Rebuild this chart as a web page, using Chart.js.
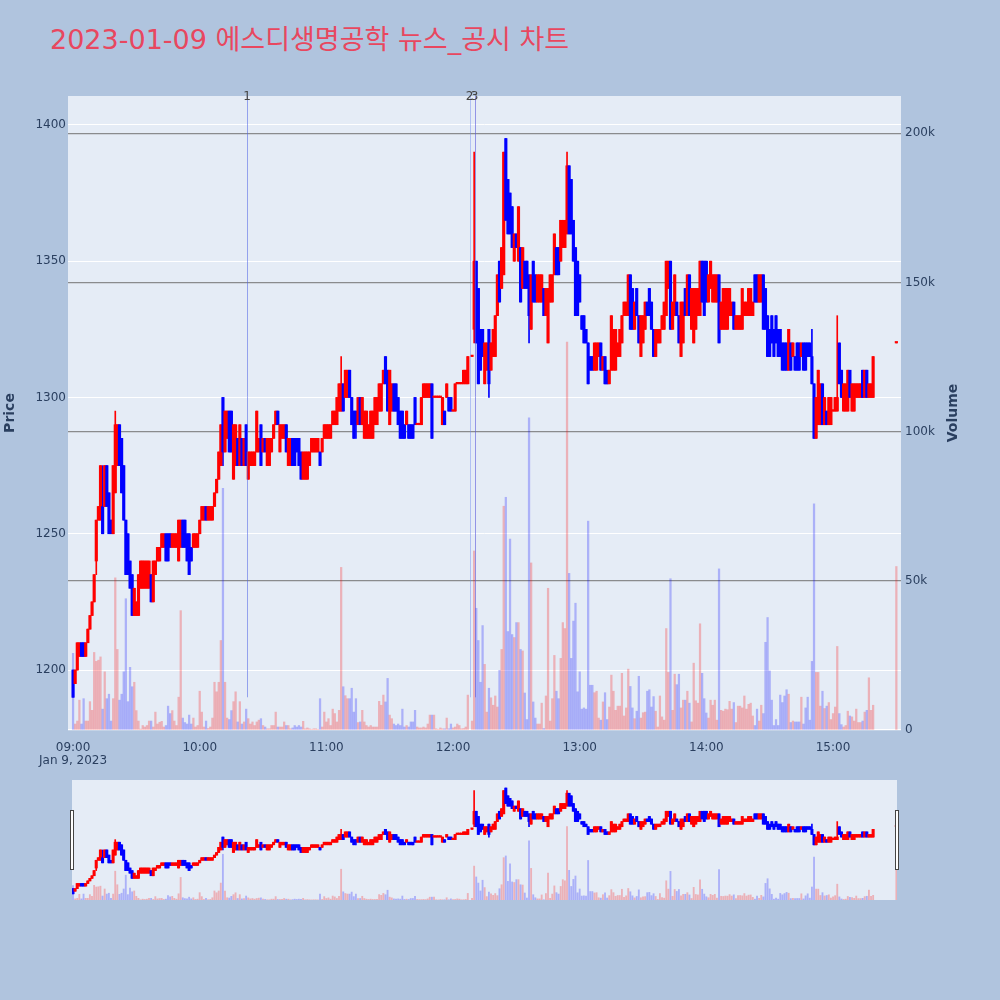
<!DOCTYPE html>
<html>
<head>
<meta charset="utf-8">
<script src="https://cdn.jsdelivr.net/npm/chart.js@4.4.1/dist/chart.umd.min.js"></script>
<style>
  html, body { margin: 0; padding: 0; background: #b0c4de; }
  #page { position: relative; width: 1000px; height: 1000px; overflow: hidden; }
  #title {
    position: absolute; left: 50px; top: 24px;
    font: 27px "DejaVu Sans", "Noto Sans CJK KR", sans-serif;
    color: #e8475f; white-space: nowrap; line-height: 32px;
  }
  #mainChart { position: absolute; left: 0; top: 0; }
  #sliderChart { position: absolute; left: 0; top: 780px; }
</style>
</head>
<body>
<div id="page">
  <div id="title">2023-01-09 에스디생명공학 뉴스_공시 차트</div>
  <canvas id="mainChart" width="1000" height="780"></canvas>
  <canvas id="sliderChart" width="1000" height="120"></canvas>
</div>
<script>
// one candle per minute from 09:00 (index = minutes after 09:00), null = no trade
const opens = [
  1200,1195,1200,1205,1210,1210,1205,1210,1215,1220, // 09:00
  1225,1240,1255,1255,1260,1260,1275,1265,1255,1250,
  1265,1275,1290,1285,1275,1255,1250,1240,1235,1220,
  1220,1220,1230,1230,1230,1230,1230,1235,1225,1235,
  1240,1240,1245,1245,1250,1250,1250,1245,1245,1245,
  1240,1245,1255,1255,1250,1250,1245,1245,1245,1245,
  1250,1255,1255,1260,1255,1255,1255,1260,1265,1270, // 10:00
  1275,1300,1280,1285,1295,1295,1270,1275,1285,1275,
  1285,1275,1290,1270,1275,1275,1275,1280,1280,1290,
  1280,1285,1275,1275,1280,1285,1290,1295,1280,1285,
  1285,1290,1275,1275,1285,1285,1285,1285,1280,1270,
  1270,1270,1275,1280,1280,1280,1280,1280,1280,1285,
  1285,1285,1285,1290,1290,1290,1295,1295,1305,1300, // 11:00
  1300,1310,1300,1295,1295,1290,1300,1290,1285,1285,
  1285,1285,1285,1290,1290,1295,1295,1305,1315,1310,
  1290,1295,1305,1305,1300,1295,1295,1290,1290,1290,
  1290,1290,1300,1290,1290,1290,1300,1300,1300,1300,
  1305,1300,1300,1300,1300,1290,1295,1300,1300,1300,
  1295,1295,1305,1305,1305,1305,1305,1305,null,1315, // 12:00
  1325,1350,1340,1325,1325,1305,1310,1325,1310,1315,
  1315,1330,1350,1340,1345,1395,1380,1375,1370,1350,
  1360,1350,1355,1340,1350,1350,1345,1325,1350,1345,
  1335,1335,1335,1340,1330,1320,1335,1335,1345,1355,
  1355,1350,1355,1355,1360,1385,1380,1365,1355,1350,
  1345,1330,1330,1325,1320,1315,1315,1310,1310,1315, // 13:00
  1320,1310,1315,1310,1305,1310,1310,1310,1315,1315,
  1320,1330,1330,1330,1345,1340,1325,1340,1330,1315,
  1320,1325,1335,1340,1335,1325,1315,1320,1320,1325,
  1325,1330,1340,1350,1325,1330,1335,1330,1315,1320,
  1340,1330,1345,1325,1320,1325,1330,1330,1350,1350,
  1350,1335,1340,1335,1335,1335,1345,1325,1325,1325, // 14:00
  1325,1330,1330,1335,1325,1325,1325,1325,1330,1330,
  1330,1330,1330,1345,1345,1335,1335,1345,1340,1330,
  1325,1330,1325,1330,1325,1325,1320,1320,1320,1310,
  1320,1315,1315,1320,1320,1315,1320,1320,1320,1320,
  1315,1305,1285,1290,1290,1305,1290,1295,1290,1290,
  1295,1295,1295,1320,1310,1295,1295,1295,1310,1295, // 15:00
  1295,1300,1300,1300,1310,1300,1310,1300,1300,1300,
  null,null,null,null,null,null,null,null,null,null,
  1320
];
const closes = [
  1190,1200,1210,1210,1205,1205,1210,1215,1220,1225,
  1235,1255,1260,1275,1250,1275,1260,1250,1250,1275,
  1290,1290,1275,1265,1255,1235,1235,1230,1220,1230,
  1225,1235,1240,1240,1240,1240,1240,1225,1240,1240,
  1245,1245,1250,1250,1240,1240,1245,1250,1250,1250,
  1255,1255,1245,1245,1240,1235,1240,1250,1250,1250,
  1255,1260,1260,1255,1260,1260,1260,1265,1270,1280,
  1290,1280,1295,1295,1280,1280,1290,1290,1275,1290,
  1275,1285,1275,1280,1280,1280,1280,1295,1285,1275,
  1285,1280,1285,1285,1285,1290,1295,1290,1290,1290,
  1290,1280,1285,1285,1275,1275,1280,1275,1270,1280,
  1280,1280,1280,1285,1285,1285,1285,1275,1285,1290,
  1290,1290,1290,1295,1295,1300,1305,1305,1295,1310,
  1310,1300,1290,1285,1290,1300,1290,1300,1295,1295,
  1290,1295,1295,1300,1300,1305,1305,1310,1305,1295,
  1310,1305,1295,1295,1290,1285,1285,1285,1295,1285,
  1285,1285,1290,1290,1290,1300,1305,1305,1305,1305,
  1285,1300,1300,1300,1300,1300,1290,1305,1295,1295,
  1295,1305,1305,1305,1305,1310,1310,1315,null,1315,
  1350,1320,1305,1310,1315,1320,1320,1305,1320,1325,
  1330,1345,1335,1355,1390,1365,1360,1360,1355,1360,
  1355,1370,1335,1355,1340,1340,1330,1345,1335,1335,
  1345,1345,1345,1330,1340,1340,1345,1345,1360,1345,
  1345,1365,1365,1365,1385,1360,1360,1350,1330,1330,
  1335,1325,1320,1320,1305,1310,1310,1320,1320,1320,
  1310,1315,1305,1305,1310,1330,1325,1325,1320,1325,
  1330,1335,1335,1345,1325,1325,1335,1330,1320,1330,
  1330,1335,1330,1330,1325,1315,1325,1325,1325,1330,
  1335,1350,1350,1325,1335,1345,1330,1320,1335,1335,
  1330,1345,1330,1340,1340,1340,1340,1350,1335,1330,
  1335,1345,1350,1345,1345,1345,1320,1335,1340,1340,
  1340,1340,1335,1325,1330,1330,1330,1340,1335,1335,
  1340,1340,1335,1335,1335,1345,1345,1325,1325,1315,
  1315,1320,1315,1320,1315,1315,1310,1310,1310,1325,
  1310,1320,1310,1310,1310,1320,1310,1310,1315,1315,
  1305,1285,1300,1310,1305,1290,1300,1290,1300,1300,
  1295,1300,1300,1305,1300,1305,1305,1310,1300,1305,
  1305,1305,1305,1305,1300,1310,1300,1305,1305,1315,
  null,null,null,null,null,null,null,null,null,null,
  1320
];
const highs = [
  1200,1200,1210,1210,1210,1210,1210,1215,1220,1225,
  1235,1255,1260,1275,1275,1275,1275,1265,1255,1275,
  1295,1290,1290,1285,1275,1255,1250,1240,1235,1230,
  1225,1235,1240,1240,1240,1240,1240,1235,1240,1240,
  1245,1245,1250,1250,1250,1250,1250,1250,1250,1250,
  1255,1255,1255,1255,1250,1250,1245,1250,1250,1250,
  1255,1260,1260,1260,1260,1260,1260,1265,1270,1280,
  1290,1300,1295,1295,1295,1295,1290,1290,1285,1290,
  1285,1285,1290,1280,1280,1280,1280,1295,1285,1290,
  1285,1285,1285,1285,1285,1290,1295,1295,1290,1290,
  1290,1290,1285,1285,1285,1285,1285,1285,1280,1280,
  1280,1280,1280,1285,1285,1285,1285,1280,1285,1290,
  1290,1290,1290,1295,1295,1300,1305,1315,1305,1310,
  1310,1310,1300,1295,1295,1300,1300,1300,1295,1295,
  1290,1295,1295,1300,1300,1305,1305,1310,1315,1310,
  1310,1305,1305,1305,1300,1295,1295,1290,1295,1290,
  1290,1290,1300,1290,1290,1300,1305,1305,1305,1305,
  1305,1300,1300,1300,1300,1300,1295,1305,1300,1300,
  1295,1305,1305,1305,1305,1310,1310,1315,null,1315,
  1390,1350,1340,1325,1325,1320,1320,1325,1320,1325,
  1330,1345,1350,1355,1390,1395,1380,1375,1370,1360,
  1360,1370,1355,1355,1350,1350,1345,1345,1350,1345,
  1345,1345,1345,1340,1340,1340,1345,1345,1360,1355,
  1355,1365,1365,1365,1390,1385,1380,1365,1355,1350,
  1345,1330,1330,1325,1320,1315,1315,1320,1320,1320,
  1320,1315,1315,1310,1310,1330,1325,1325,1320,1325,
  1330,1335,1335,1345,1345,1340,1335,1340,1330,1330,
  1330,1335,1335,1340,1335,1325,1325,1325,1325,1330,
  1335,1350,1350,1350,1335,1345,1335,1330,1335,1335,
  1340,1345,1345,1340,1340,1340,1340,1350,1350,1350,
  1350,1345,1350,1345,1345,1345,1345,1335,1340,1340,
  1340,1340,1335,1335,1330,1330,1330,1340,1335,1335,
  1340,1340,1335,1345,1345,1345,1345,1345,1340,1330,
  1325,1330,1325,1330,1325,1325,1320,1320,1320,1325,
  1320,1320,1315,1320,1320,1320,1320,1320,1320,1320,
  1325,1305,1300,1310,1305,1305,1300,1295,1300,1300,
  1295,1300,1330,1320,1310,1305,1305,1310,1310,1305,
  1305,1305,1305,1305,1310,1310,1310,1305,1305,1315,
  null,null,null,null,null,null,null,null,null,null,
  1320
];
const lows = [
  1190,1195,1200,1205,1205,1205,1205,1210,1215,1220,
  1225,1235,1255,1255,1250,1260,1260,1250,1250,1250,
  1265,1275,1275,1265,1255,1235,1235,1230,1220,1220,
  1220,1220,1230,1230,1230,1230,1230,1225,1225,1235,
  1240,1240,1245,1245,1240,1240,1245,1245,1245,1245,
  1240,1245,1245,1245,1240,1235,1240,1245,1245,1245,
  1250,1255,1255,1255,1255,1255,1255,1260,1265,1270,
  1275,1275,1280,1285,1280,1280,1270,1275,1275,1275,
  1275,1275,1275,1270,1275,1275,1275,1280,1280,1275,
  1280,1280,1275,1275,1280,1285,1290,1290,1280,1285,
  1285,1280,1275,1275,1275,1275,1280,1275,1270,1270,
  1270,1270,1275,1280,1280,1280,1280,1275,1280,1285,
  1285,1285,1285,1290,1290,1290,1295,1295,1295,1300,
  1300,1300,1290,1285,1285,1290,1290,1290,1285,1285,
  1285,1285,1285,1290,1290,1295,1295,1305,1305,1295,
  1290,1295,1295,1295,1290,1285,1285,1285,1290,1285,
  1285,1285,1290,1290,1290,1290,1300,1300,1300,1300,
  1285,1300,1300,1300,1300,1290,1290,1300,1295,1295,
  1295,1295,1305,1305,1305,1305,1305,1305,null,1315,
  1320,1320,1305,1310,1315,1305,1310,1300,1310,1315,
  1315,1330,1335,1340,1345,1365,1360,1360,1355,1350,
  1355,1350,1335,1340,1340,1340,1320,1325,1335,1335,
  1335,1335,1335,1330,1330,1320,1335,1335,1345,1345,
  1345,1350,1355,1355,1360,1360,1360,1350,1330,1330,
  1335,1325,1320,1320,1305,1310,1310,1310,1310,1315,
  1310,1310,1305,1305,1305,1310,1310,1310,1315,1315,
  1320,1330,1330,1330,1325,1325,1325,1330,1320,1315,
  1320,1325,1330,1330,1325,1315,1315,1320,1320,1325,
  1325,1330,1340,1325,1325,1330,1330,1320,1315,1320,
  1330,1330,1330,1325,1320,1325,1330,1330,1335,1330,
  1335,1335,1340,1335,1335,1335,1320,1325,1325,1325,
  1325,1330,1330,1325,1325,1325,1325,1325,1330,1330,
  1330,1330,1330,1335,1335,1335,1335,1325,1325,1315,
  1315,1320,1315,1320,1315,1315,1310,1310,1310,1310,
  1310,1315,1310,1310,1310,1315,1310,1310,1315,1315,
  1305,1285,1285,1290,1290,1290,1290,1290,1290,1290,
  1295,1295,1295,1305,1300,1295,1295,1295,1300,1295,
  1295,1300,1300,1300,1300,1300,1300,1300,1300,1300,
  null,null,null,null,null,null,null,null,null,null,
  1320
];
// volume per minute, in thousands of shares
const volumesK = [
  25.7,2,3,10,2,10.5,3,3,9.5,6.6,
  26,23,23.4,24.5,7,19.5,10.5,12,3,10.5,
  51,27,10,12,19.5,44,9.5,21,14.5,16,
  6.5,3,0.3,1.5,1,1.5,3,3,1,6,
  2,2.6,2.9,1,1.5,8,5.5,6.5,3,1.5,
  11,40,4,2.5,2,5,2,4,1,1.5,
  13,6,1,3,0.5,1,4,16,12.8,16,
  30,81,16,4,3.5,6.5,9.5,12.8,2.7,9.5,
  2,2.7,7,3.8,2,2.7,1.5,2.7,3.3,3.8,
  1.5,1,0.4,0.4,1.5,1.5,6,1,1,1,
  2.7,1.5,1.5,0.4,0.7,1.5,1,1.5,1,2.9,
  0.4,0.7,0.4,0.2,0.4,0.4,0.2,10.5,1,6,
  2.7,3.8,1.5,7,5.5,2.7,6.6,54.5,14.5,11.5,
  10.5,10.5,14,6,10.5,2.5,2.7,6.6,2.7,1.5,
  1,1.5,1,1,1,9.6,8.3,11.7,9.4,17.3,
  5,3.8,2,1.5,2,1.5,7,1,1.5,1,
  2.7,2.7,6.6,1,0.7,0.7,1,0.7,2,5,
  5,5,0.4,0.2,0.7,0.4,0.4,4,0.4,2,
  0.7,1,2,1.5,0.4,0.5,1,11.7,null,3,
  60,40.8,30,16,35,22,6,14,10.8,8.3,
  11.4,7.7,20,27,75,78,33,64,32,31,
  36,36,27,26.5,12.4,3.5,104.6,56,9.4,4,
  2,2,9,0.5,11.4,47.5,3,10.5,25,13,
  10.5,24,36,34,130,52.5,24,36.5,42.5,12.8,
  19.5,7,7.4,7,70,15,15,12.5,13,4,
  3.3,9.4,12.5,3.5,7.7,18.4,13,6.6,8,8,
  19,4.7,7.4,20.4,14.6,7.4,3.8,6.3,18,4,
  5.8,6,13,13.5,7.7,11.2,6.3,1,11.4,4.4,
  3.3,34,19.3,50.7,6.6,18.7,15.2,18.7,7.4,10,
  10,13,9,2.7,22.4,9.8,9,35.6,19,10.5,
  5.7,4,10,8.3,10,3.3,54,6.6,6.3,7,
  6.8,9.6,7,9.2,2.5,8,8,7.4,11.4,7,
  8.6,9,4.7,1.5,7,3,8.3,5.5,29.4,37.7,
  19.8,10,1.5,3.5,1.5,11.7,9.2,11.4,13.5,12,
  2.5,3,2.7,2.7,2.7,11,2,7.4,11,3.3,
  23,75.8,19.3,19.3,8,13,7.2,8,9.2,3.5,
  5.5,7.7,28,5.5,1.8,1,1.5,6.3,4.7,4.4,
  3,7,2.5,2.5,3,6,6.6,17.5,6.6,8.3,
  null,null,null,null,null,null,null,null,null,null,
  54.8
];

const priceTicks = [1200, 1250, 1300, 1350, 1400];
const volumeTicks = [0, 50, 100, 150, 200];
const timeTicks = [0, 60, 120, 180, 240, 300, 360];
const timeLabels = ['09:00', '10:00', '11:00', '12:00', '13:00', '14:00', '15:00'];
const dateLabel = 'Jan 9, 2023';
// news / disclosure times, minutes after 09:00
const newsMinutes = [82.4, 187.8, 190.2];
const newsLabels = ['1', '2', '3'];

const UP = '#ff0000', DOWN = '#0000ff';
const UP_VOL = 'rgba(255,0,0,0.25)', DOWN_VOL = 'rgba(0,0,255,0.25)';
const TEXT = '#2a3f5f';
const FONT = '"DejaVu Sans", "Noto Sans", sans-serif';

const idx = opens.map((o, i) => i).filter(i => opens[i] !== null);
const isUp = i => closes[i] >= opens[i];
const minLow = Math.min(...idx.map(i => lows[i]));

function buildDatasets(bodyW, wickW, volW) {
  return [
    {
      type: 'bar', label: 'body', order: 1, grouped: false,
      data: idx.map(i => ({ x: i, y: [opens[i], closes[i]] })),
      backgroundColor: idx.map(i => isUp(i) ? UP : DOWN),
      barThickness: bodyW, minBarLength: 1.5, yAxisID: 'y'
    },
    {
      type: 'bar', label: 'wick', order: 2, grouped: false,
      data: idx.map(i => ({ x: i, y: [lows[i], highs[i]] })),
      backgroundColor: idx.map(i => isUp(i) ? UP : DOWN),
      barThickness: wickW, yAxisID: 'y'
    },
    {
      type: 'bar', label: 'volume', order: 3, grouped: false,
      data: idx.map(i => ({ x: i, y: volumesK[i] })),
      backgroundColor: idx.map(i => isUp(i) ? UP_VOL : DOWN_VOL),
      barThickness: volW, yAxisID: 'y2'
    }
  ];
}

const plotBg = {
  id: 'plotBg',
  beforeDraw(chart) {
    const { ctx, chartArea: a } = chart;
    ctx.save();
    ctx.fillStyle = '#e5ecf6';
    ctx.fillRect(a.left, a.top, a.right - a.left, a.bottom - a.top);
    ctx.restore();
  }
};

const newsMarks = {
  id: 'newsMarks',
  afterDatasetsDraw(chart) {
    const { ctx, chartArea: a, scales } = chart;
    const yEnd = scales.y.getPixelForValue(minLow);
    const colors = ['rgba(80,100,230,0.55)', 'rgba(110,140,240,0.45)', 'rgba(90,90,220,0.6)'];
    ctx.save();
    newsMinutes.forEach((m, k) => {
      const x = Math.round(scales.x.getPixelForValue(m)) + 0.5;
      ctx.strokeStyle = colors[k];
      ctx.lineWidth = 1;
      ctx.beginPath();
      ctx.moveTo(x, a.top);
      ctx.lineTo(x, yEnd);
      ctx.stroke();
    });
    ctx.fillStyle = '#444';
    ctx.font = '12px ' + FONT;
    ctx.textAlign = 'center';
    ctx.textBaseline = 'middle';
    newsMinutes.forEach((m, k) => {
      ctx.fillText(newsLabels[k], scales.x.getPixelForValue(m), a.top + 1);
    });
    ctx.restore();
  }
};

const axisTitles = {
  id: 'axisTitles',
  afterDraw(chart) {
    const { ctx, chartArea: a } = chart;
    const mid = (a.top + a.bottom) / 2;
    ctx.save();
    ctx.fillStyle = TEXT;
    ctx.font = 'bold 14px ' + FONT;
    ctx.textAlign = 'center';
    ctx.textBaseline = 'middle';
    [[a.left - 58, 'Price'], [a.right + 52, 'Volume']].forEach(([x, t]) => {
      ctx.save();
      ctx.translate(x, mid);
      ctx.rotate(-Math.PI / 2);
      ctx.fillText(t, 0, 0);
      ctx.restore();
    });
    ctx.restore();
  }
};

const sliderHandles = {
  id: 'sliderHandles',
  afterDraw(chart) {
    const { ctx, chartArea: a } = chart;
    const mid = (a.top + a.bottom) / 2;
    ctx.save();
    ctx.fillStyle = '#ffffff';
    ctx.strokeStyle = '#444';
    ctx.lineWidth = 1;
    [a.left - 2, a.right - 2].forEach(x => {
      ctx.fillRect(x, mid - 30, 4, 60);
      ctx.strokeRect(x + 0.5, mid - 29.5, 3, 59);
    });
    ctx.restore();
  }
};

Chart.defaults.font.family = FONT;
Chart.defaults.font.size = 12;
Chart.defaults.color = TEXT;

new Chart(document.getElementById('mainChart'), {
  type: 'bar',
  data: { datasets: buildDatasets(2.5, 1, 1.6) },
  options: {
    responsive: false,
    animation: false,
    layout: { padding: { top: 96, left: 0, right: 0, bottom: 0 } },
    plugins: { legend: { display: false }, tooltip: { enabled: false } },
    scales: {
      x: {
        type: 'linear', min: -2.4, max: 392.2, offset: false,
        afterBuildTicks: s => { s.ticks = timeTicks.map(v => ({ value: v })); },
        afterFit: s => { s.height = 50; },
        ticks: {
          padding: 3, maxRotation: 0, autoSkip: false, color: TEXT,
          font: { size: 12, lineHeight: 1.1 },
          callback: (v) => {
            const k = timeTicks.indexOf(v);
            return k === 0 ? [timeLabels[0], dateLabel] : timeLabels[k];
          }
        },
        grid: { display: false },
        border: { display: false }
      },
      y: {
        position: 'left', min: 1178, max: 1410.6,
        afterBuildTicks: s => { s.ticks = priceTicks.map(v => ({ value: v })); },
        afterFit: s => { s.width = 68; },
        ticks: { padding: 2, color: TEXT, callback: v => String(v) },
        grid: { color: '#ffffff', lineWidth: 1, drawTicks: false },
        border: { display: false }
      },
      y2: {
        position: 'right', min: 0, max: 212.5,
        afterBuildTicks: s => { s.ticks = volumeTicks.map(v => ({ value: v })); },
        afterFit: s => { s.width = 99; },
        ticks: { padding: 4, color: TEXT, callback: v => v === 0 ? '0' : v + 'k' },
        grid: {
          drawTicks: false, lineWidth: 1.2,
          color: c => c.tick && c.tick.value === 0 ? '#ffffff' : 'rgba(115,115,115,0.8)'
        },
        border: { display: false }
      }
    }
  },
  plugins: [plotBg, newsMarks, axisTitles]
});

new Chart(document.getElementById('sliderChart'), {
  type: 'bar',
  data: { datasets: buildDatasets(2.4, 1, 1.2) },
  options: {
    responsive: false,
    animation: false,
    layout: { padding: { top: 0, left: 72, right: 103, bottom: 0 } },
    plugins: { legend: { display: false }, tooltip: { enabled: false } },
    scales: {
      x: { type: 'linear', min: -0.47, max: 390.3, offset: false, display: false },
      y: { min: 1178, max: 1410.6, display: false },
      y2: { min: 0, max: 212.5, display: false }
    }
  },
  plugins: [plotBg, sliderHandles]
});
</script>
</body>
</html>
